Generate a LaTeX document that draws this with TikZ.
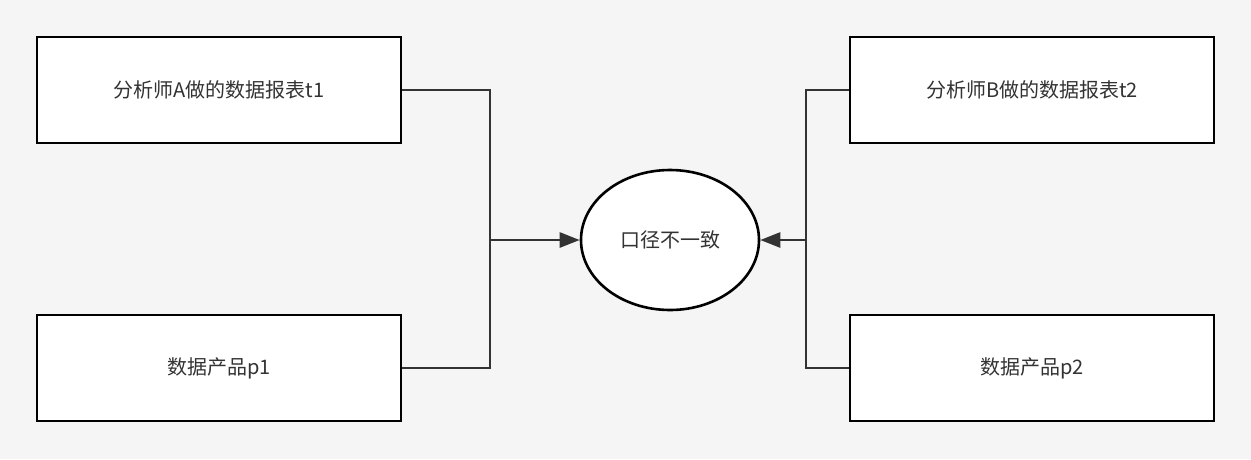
\documentclass[tikz,border=0pt]{standalone}
\usepackage{fontspec}
\setmainfont{Noto Sans CJK SC}
\usetikzlibrary{arrows.meta,shapes.geometric}
\definecolor{bg}{HTML}{F5F5F5}
\definecolor{ink}{HTML}{333333}
\begin{document}
\begin{tikzpicture}[x=1pt,y=-1pt,
  box/.style={draw=black,line width=2.6pt,fill=white,minimum width=364pt,minimum height=106pt,font=\fontsize{20}{24}\selectfont,text=ink},
  conn/.style={draw=ink,line width=2.6pt},
  arr/.style={conn,-{Triangle[length=20pt,width=15pt]}}]
\fill[bg] (0,0) rectangle (1251,459);
\node[box] (a) at (219,90) {分析师A做的数据报表t1};
\node[box] (p1) at (219,368) {数据产品p1};
\node[box] (b) at (1032,90) {分析师B做的数据报表t2};
\node[box] (p2) at (1032,368) {数据产品p2};
\node[draw=black,line width=2.6pt,fill=white,ellipse,minimum width=178pt,minimum height=140pt,inner sep=0pt,font=\fontsize{20}{24}\selectfont,text=ink] (e) at (670,240) {口径不一致};
\coordinate (jl) at (490,240);
\coordinate (jr) at (806,240);
\draw[conn] (a.east) -| (jl);
\draw[conn] (p1.east) -| (jl);
\draw[arr] (jl) -- (e.west);
\draw[conn] (b.west) -| (jr);
\draw[conn] (p2.west) -| (jr);
\draw[arr] (jr) -- (e.east);
\end{tikzpicture}
\end{document}
